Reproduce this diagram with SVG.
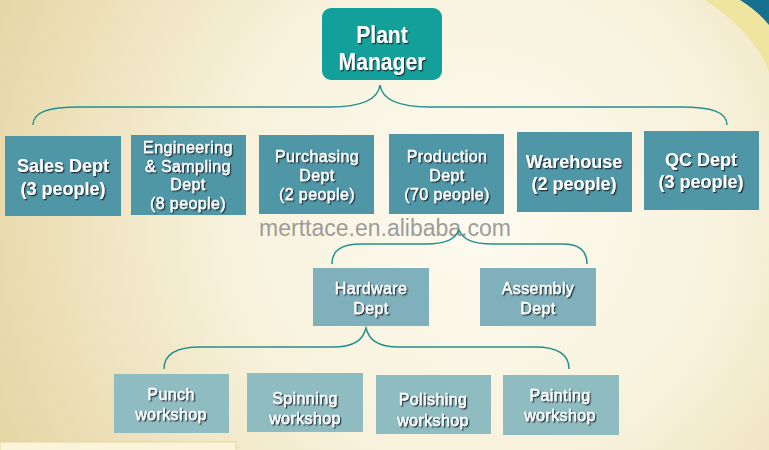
<svg xmlns="http://www.w3.org/2000/svg" width="769" height="450" viewBox="0 0 769 450">
<defs>
<radialGradient id="bg" cx="480" cy="210" r="560" gradientUnits="userSpaceOnUse">
<stop offset="0" stop-color="#fdfbf1"/>
<stop offset="0.45" stop-color="#f8f2dc"/>
<stop offset="1" stop-color="#e4d39f"/>
</radialGradient>
<filter id="sh" x="-10%" y="-10%" width="130%" height="140%">
<feDropShadow dx="1.3" dy="1.3" stdDeviation="0.4" flood-color="#1a2a30" flood-opacity="0.9"/>
</filter>
<style>
.t{font-family:"Liberation Sans",Arial,sans-serif;fill:#ffffff;text-anchor:middle;filter:url(#sh)}
.b{font-weight:bold;font-size:18px}
.r{font-size:16px;letter-spacing:0.4px;stroke:#ffffff;stroke-width:0.35px}
.l1{fill:#4f97a7}
.l2{fill:#7fb0bb}
.l3{fill:#8fbcc1}
.br{fill:none;stroke:#22908f;stroke-width:1.5}
</style>
</defs>
<rect width="769" height="450" fill="url(#bg)"/>
<path d="M705,0 C735,20 760,45 769,72 L769,25 C760,14 750,6 740,0 Z" fill="#efe4a0"/>
<path d="M740,0 C750,6 760,14 769,25 L769,0 Z" fill="#16708f"/>
<rect x="0" y="442" width="236" height="10" fill="#fbf4da" stroke="#e6d69c" stroke-width="1"/>
<text x="385" y="236" font-family="Liberation Sans,Arial,sans-serif" font-size="23" fill="#8a8a8a" fill-opacity="0.85" text-anchor="middle">merttace.en.alibaba.com</text>
<g id="connectors">
<path class="br" stroke-width="2" d="M33,125 C33,112 48,107 80,107 L330,107 C362,107 378,100 380,85 C382,100 398,107 430,107 L680,107 C712,107 727,112 727,125"/>
<path class="br" d="M332,264 C332,251 340,244 362,244 L425,244 C447,244 455,239 459,230 C463,239 471,244 493,244 L563,244 C580,244 587,252 587,264"/>
<path class="br" d="M164,369 C164,355 176,347 200,347 L332,347 C356,347 363,339 366,328 C369,339 376,347 400,347 L535,347 C559,347 569,355 569,369"/>
</g>
<g id="plant-manager">
<rect x="322" y="8" width="120" height="72" rx="9" fill="#13a09b"/>
<g transform="translate(382,0) scale(0.88,1)">
<text class="t" x="0" y="43" font-size="24" font-weight="bold">Plant</text>
<text class="t" x="0" y="70" font-size="24" font-weight="bold">Manager</text>
</g>
</g>
<g id="sales">
<rect class="l1" x="5" y="136" width="116" height="80"/>
<text class="t b" x="63" y="172">Sales Dept</text>
<text class="t b" x="63" y="195">(3 people)</text>
</g>
<g id="engineering">
<rect class="l1" x="131" y="135" width="115" height="80"/>
<text class="t r" x="188" y="153">Engineering</text>
<text class="t r" x="188" y="172">&amp; Sampling</text>
<text class="t r" x="188" y="190">Dept</text>
<text class="t r" x="188" y="209">(8 people)</text>
</g>
<g id="purchasing">
<rect class="l1" x="259" y="135" width="115" height="79"/>
<text class="t r" x="317" y="162">Purchasing</text>
<text class="t r" x="317" y="181">Dept</text>
<text class="t r" x="317" y="200">(2 people)</text>
</g>
<g id="production">
<rect class="l1" x="389" y="134" width="115" height="80"/>
<text class="t r" x="447" y="162">Production</text>
<text class="t r" x="447" y="181">Dept</text>
<text class="t r" x="447" y="200">(70 people)</text>
</g>
<g id="warehouse">
<rect class="l1" x="517" y="132" width="115" height="80"/>
<text class="t b" x="574" y="168">Warehouse</text>
<text class="t b" x="574" y="190">(2 people)</text>
</g>
<g id="qc">
<rect class="l1" x="644" y="131" width="115" height="79"/>
<text class="t b" x="701" y="166">QC Dept</text>
<text class="t b" x="701" y="188">(3 people)</text>
</g>
<g id="hardware">
<rect class="l2" x="313" y="268" width="116" height="58"/>
<text class="t r" x="371" y="294">Hardware</text>
<text class="t r" x="371" y="314">Dept</text>
</g>
<g id="assembly">
<rect class="l2" x="480" y="268" width="116" height="58"/>
<text class="t r" x="538" y="294">Assembly</text>
<text class="t r" x="538" y="314">Dept</text>
</g>
<g id="punch">
<rect class="l3" x="114" y="374" width="115" height="59"/>
<text class="t r" x="171" y="400">Punch</text>
<text class="t r" x="171" y="420">workshop</text>
</g>
<g id="spinning">
<rect class="l3" x="247" y="373" width="116" height="59"/>
<text class="t r" x="305" y="404">Spinning</text>
<text class="t r" x="305" y="424">workshop</text>
</g>
<g id="polishing">
<rect class="l3" x="376" y="375" width="115" height="59"/>
<text class="t r" x="433" y="405">Polishing</text>
<text class="t r" x="433" y="426">workshop</text>
</g>
<g id="painting">
<rect class="l3" x="503" y="375" width="116" height="60"/>
<text class="t r" x="560" y="401">Painting</text>
<text class="t r" x="560" y="421">workshop</text>
</g>
</svg>
